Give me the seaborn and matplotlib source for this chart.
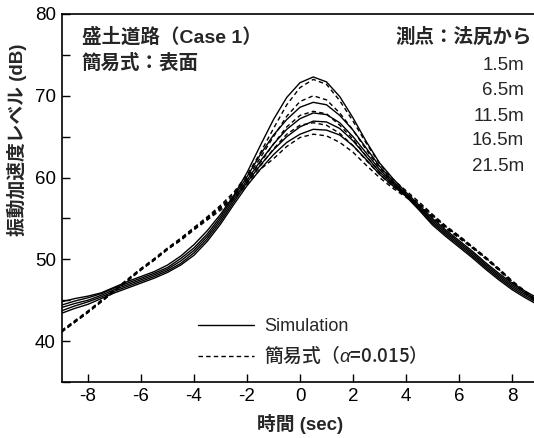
import matplotlib
matplotlib.use("Agg")
import matplotlib.pyplot as plt
from matplotlib.ticker import MultipleLocator, FixedLocator
import seaborn as sns

# elapsed time relative to the vehicle passing (sec)
time = [-9.0, -8.5, -8.0, -7.5, -7.0, -6.5, -6.0, -5.5, -5.0, -4.5, -4.0, -3.5,
        -3.0, -2.5, -2.0, -1.5, -1.0, -0.5, 0.0, 0.5, 1.0, 1.5, 2.0, 2.5,
        3.0, 3.5, 4.0, 4.5, 5.0, 5.5, 6.0, 6.5, 7.0, 7.5, 8.0, 8.5, 9.0]

# vibration acceleration level (dB), simulation, by distance from the slope toe
sim_1_5m = [44.8, 45.2, 45.5, 45.9, 46.6, 47.3, 47.9, 48.5, 49.3, 50.4, 51.8, 53.5,
            55.5, 57.8, 60.6, 63.9, 67.1, 69.8, 71.6, 72.3, 71.7, 69.9, 67.3, 64.4,
            61.8, 59.9, 58.2, 56.6, 55.0, 53.6, 52.3, 51.0, 49.6, 48.3, 47.1, 46.1, 45.2]
sim_6_5m = [44.4, 44.9, 45.3, 45.8, 46.5, 47.1, 47.7, 48.3, 49.0, 50.1, 51.4, 53.1,
            55.2, 57.6, 60.1, 62.8, 65.2, 67.1, 68.6, 69.2, 68.9, 67.6, 65.8, 63.6,
            61.4, 59.6, 58.0, 56.4, 54.8, 53.4, 52.1, 50.8, 49.4, 48.1, 46.9, 45.9, 45.0]
sim_11_5m = [44.1, 44.6, 45.0, 45.6, 46.3, 46.9, 47.5, 48.1, 48.8, 49.8, 51.1, 52.8,
             54.9, 57.3, 59.7, 62.0, 64.1, 65.9, 67.2, 67.9, 67.7, 66.7, 65.0, 63.0,
             61.0, 59.4, 57.9, 56.3, 54.6, 53.2, 51.9, 50.6, 49.2, 47.9, 46.7, 45.7, 44.8]
sim_16_5m = [43.7, 44.3, 44.8, 45.4, 46.1, 46.7, 47.3, 47.9, 48.6, 49.5, 50.8, 52.5,
             54.6, 57.0, 59.4, 61.5, 63.4, 65.0, 66.2, 66.9, 66.8, 66.0, 64.5, 62.6,
             60.7, 59.2, 57.8, 56.1, 54.4, 53.0, 51.7, 50.4, 49.0, 47.7, 46.5, 45.5, 44.6]
sim_21_5m = [43.4, 44.0, 44.5, 45.2, 45.9, 46.5, 47.1, 47.7, 48.4, 49.3, 50.5, 52.2,
             54.3, 56.7, 59.0, 61.0, 62.8, 64.3, 65.3, 65.9, 65.8, 65.2, 63.9, 62.2,
             60.4, 59.0, 57.7, 56.0, 54.2, 52.8, 51.5, 50.2, 48.8, 47.5, 46.3, 45.3, 44.4]

# simplified formula (alpha = 0.015)
calc_1_5m = [41.3, 42.5, 43.7, 45.0, 46.3, 47.6, 48.9, 50.1, 51.4, 52.6, 53.9, 55.2,
             56.6, 58.2, 60.3, 63.0, 66.0, 68.9, 71.0, 72.0, 71.4, 69.4, 66.9, 64.2,
             61.7, 59.8, 58.4, 57.0, 55.5, 54.1, 52.9, 51.6, 50.3, 48.9, 47.4, 46.1, 44.8]
calc_6_5m = [41.2, 42.4, 43.6, 44.9, 46.2, 47.5, 48.8, 50.0, 51.3, 52.5, 53.8, 55.1,
             56.4, 58.0, 59.9, 62.4, 65.0, 67.5, 69.3, 70.0, 69.5, 67.9, 65.8, 63.4,
             61.2, 59.5, 58.2, 56.8, 55.4, 54.0, 52.8, 51.5, 50.2, 48.8, 47.3, 46.0, 44.7]
calc_11_5m = [41.2, 42.4, 43.6, 44.9, 46.2, 47.5, 48.8, 50.0, 51.3, 52.4, 53.7, 55.0,
              56.3, 57.7, 59.6, 61.8, 64.1, 66.2, 67.6, 68.1, 67.8, 66.4, 64.7, 62.6,
              60.7, 59.2, 57.9, 56.7, 55.3, 53.9, 52.8, 51.5, 50.2, 48.8, 47.3, 46.0, 44.7]
calc_16_5m = [41.1, 42.3, 43.5, 44.8, 46.1, 47.4, 48.7, 49.9, 51.2, 52.4, 53.7, 54.9,
              56.2, 57.6, 59.3, 61.4, 63.5, 65.3, 66.4, 66.7, 66.4, 65.4, 63.9, 62.1,
              60.4, 58.9, 57.8, 56.6, 55.2, 53.9, 52.7, 51.4, 50.1, 48.7, 47.2, 45.9, 44.6]
calc_21_5m = [41.1, 42.3, 43.5, 44.8, 46.1, 47.4, 48.7, 49.9, 51.2, 52.3, 53.6, 54.8,
              56.0, 57.4, 59.1, 61.0, 62.3, 63.8, 64.9, 65.3, 65.1, 64.3, 63.1, 61.5,
              60.0, 58.7, 57.6, 56.4, 55.1, 53.8, 52.6, 51.4, 50.1, 48.7, 47.2, 45.9, 44.6]

stations = ["1.5m", "6.5m", "11.5m", "16.5m", "21.5m"]
x_ticks = [-8, -6, -4, -2, 0, 2, 4, 6, 8]
y_ticks = [40, 50, 60, 70, 80]

sns.set_theme(style="ticks")
plt.rcParams["font.family"] = ["Liberation Sans", "Noto Sans CJK JP"]
plt.rcParams["axes.unicode_minus"] = False
plt.rcParams["axes.edgecolor"] = "black"
plt.rcParams["xtick.color"] = "black"
plt.rcParams["ytick.color"] = "black"
# italic alpha inside the Japanese legend entry
plt.rcParams["mathtext.fontset"] = "custom"
plt.rcParams["mathtext.rm"] = "Noto Sans CJK JP"
plt.rcParams["mathtext.it"] = "Liberation Sans:italic"

fig = plt.figure(figsize=(5.34, 4.38), dpi=100)
fig.patch.set_facecolor("white")
ax = fig.add_axes([61.5 / 534, 56 / 438, 477 / 534, 368 / 438])

sims = [sim_1_5m, sim_6_5m, sim_11_5m, sim_16_5m, sim_21_5m]
calcs = [calc_1_5m, calc_6_5m, calc_11_5m, calc_16_5m, calc_21_5m]

for i, vals in enumerate(sims):
    sns.lineplot(x=time, y=vals, ax=ax, color="black", linewidth=1.0,
                 label="Simulation" if i == 0 else None, legend=False)
for i, vals in enumerate(calcs):
    sns.lineplot(x=time, y=vals, ax=ax, color="black", linewidth=1.0,
                 linestyle=(0, (3.2, 2.3)),
                 label="簡易式（$\\alpha$=0.015）" if i == 0 else None, legend=False)

ax.set_xlim(-9, 9)
ax.set_ylim(35, 80)
ax.xaxis.set_major_locator(FixedLocator(x_ticks))
ax.yaxis.set_major_locator(FixedLocator(y_ticks))
ax.yaxis.set_minor_locator(MultipleLocator(5))
ax.tick_params(which="both", direction="in", length=6, width=1.0,
               labelsize=13.5, pad=4, top=False, right=False)
for side in ["left", "bottom", "top", "right"]:
    ax.spines[side].set_linewidth(1.2)
    ax.spines[side].set_color("black")

ax.set_xlabel("時間 (sec)", fontsize=13.5, fontweight="bold")
ax.xaxis.set_label_coords(0.5, -0.087)
ax.set_ylabel("振動加速度レベル (dB)", fontsize=13.5, fontweight="bold")
ax.yaxis.set_label_coords(-0.072, 0.658)

ax.text(0.043, 0.9375, "盛土道路（Case 1）", transform=ax.transAxes,
        ha="left", va="center", fontsize=14, fontweight="bold")
ax.text(0.043, 0.8668, "簡易式：表面", transform=ax.transAxes,
        ha="left", va="center", fontsize=14, fontweight="bold")
ax.text(0.9864, 0.9375, "測点：法尻から", transform=ax.transAxes,
        ha="right", va="center", fontsize=14, fontweight="bold")
for label, yy in zip(stations, [0.8587, 0.7908, 0.7215, 0.6549, 0.5856]):
    ax.text(0.9696, yy, label, transform=ax.transAxes,
            ha="right", va="center", fontsize=13.5)

leg = ax.legend(loc="upper left", bbox_to_anchor=(0.286, 0.174), frameon=False,
                fontsize=13, handlelength=3.1, handletextpad=0.55,
                labelspacing=0.5, borderpad=0, borderaxespad=0)
# the Japanese entry is set in the CJK face so its kana/kanji render
jp_text = leg.get_texts()[1]
jp_text.set_fontfamily(["Noto Sans CJK JP"])
jp_text.set_fontsize(13.5)
jp_text.set_fontweight("medium")

fig.savefig("out.png", dpi=100, facecolor="white")
